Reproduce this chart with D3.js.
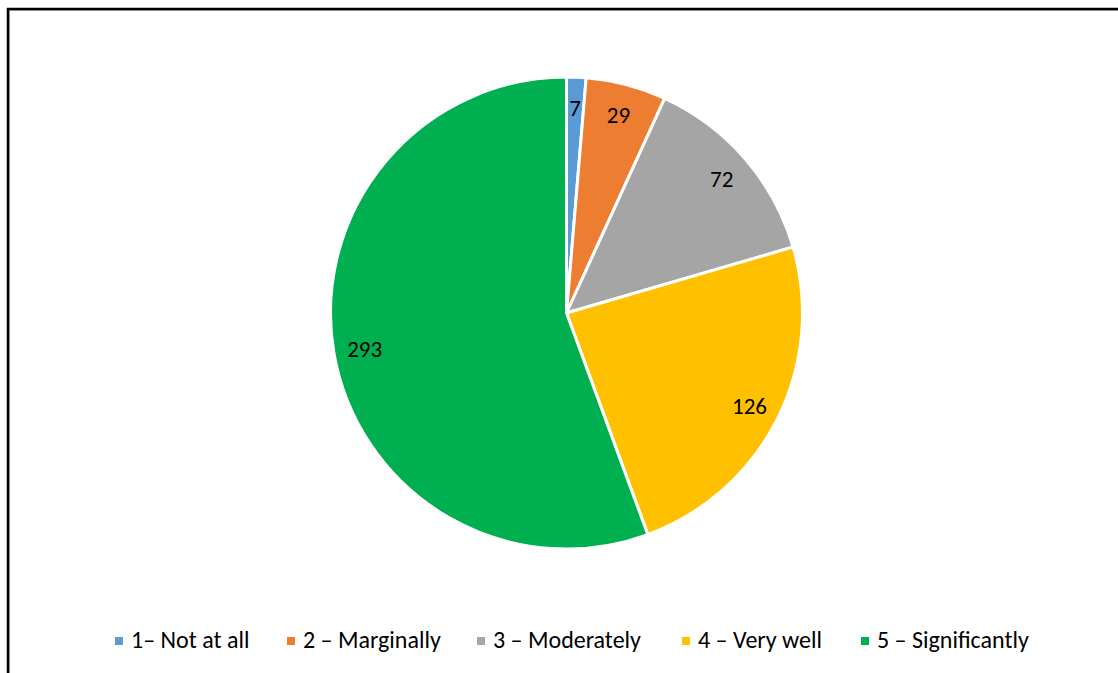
<!DOCTYPE html>
<html><head><meta charset="utf-8">
<script src="https://cdn.jsdelivr.net/npm/d3@7"></script>
<style>body{margin:0;background:#fff;}svg{display:block;}</style>
</head><body>
<svg id="c" width="1118" height="673"></svg>
<script>
const categories = ["1– Not at all", "2 – Marginally", "3 – Moderately", "4 – Very well", "5 – Significantly"];
const values = [7, 29, 72, 126, 293];
const colors = ["#5B9BD5", "#ED7D31", "#A5A5A5", "#FFC000", "#00B050"];
const legendX = [115, 287, 477, 682, 861];

const svg = d3.select("#c");
const font = "Carlito, Calibri, Lato, 'Open Sans', sans-serif";

// frame
svg.append("rect").attr("x", 9.5).attr("y", 10.5).attr("width", 1200).attr("height", 800)
  .attr("fill", "none").attr("stroke", "#bbb").attr("stroke-width", 1);
svg.append("rect").attr("x", 8).attr("y", 9).attr("width", 1200).attr("height", 800)
  .attr("fill", "none").attr("stroke", "#000").attr("stroke-width", 2.5);

const cx = 566.5, cy = 313, r = 236;
const g = svg.append("g").attr("transform", `translate(${cx},${cy})`);
const pie = d3.pie().sort(null).value(d => d)(values);
const arc = d3.arc().innerRadius(0).outerRadius(r);
const labelArc = d3.arc().innerRadius(205).outerRadius(205);

g.selectAll("path").data(pie).join("path")
  .attr("d", arc).attr("fill", (d, i) => colors[i])
  .attr("stroke", "#fff").attr("stroke-width", 3).attr("stroke-linejoin", "round");

g.selectAll("text").data(pie).join("text")
  .attr("transform", d => `translate(${labelArc.centroid(d)})`)
  .attr("text-anchor", "middle").attr("dy", "0.36em")
  .attr("font-family", font).attr("font-size", 23).attr("fill", "#000")
  .text(d => d.data);

const lg = svg.append("g");
categories.forEach((c, i) => {
  lg.append("rect").attr("x", legendX[i]).attr("y", 637).attr("width", 8).attr("height", 8).attr("fill", colors[i]);
  lg.append("text").attr("x", legendX[i] + 16).attr("y", 648)
    .attr("font-family", font).attr("font-size", 24).attr("fill", "#000").text(c);
});
</script>
</body></html>
